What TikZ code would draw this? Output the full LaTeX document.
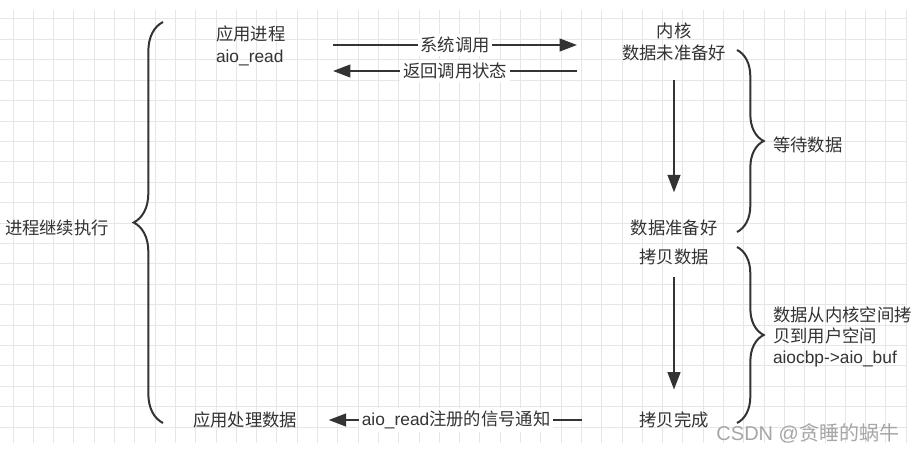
\documentclass[tikz,border=0pt]{standalone}
\usepackage{fontspec}
\newfontfamily\cjk{Noto Sans CJK SC}
\newfontfamily\lat{Liberation Sans}
\usetikzlibrary{positioning,arrows.meta,decorations.pathreplacing}
\definecolor{ink}{HTML}{333333}
\definecolor{gridc}{HTML}{E6E6E6}

\begin{document}
\begin{tikzpicture}[x=0.75pt,y=-0.75pt,>={Triangle[length=13pt,width=9.5pt]},line width=1.5pt,
  txt/.style={text=ink, font=\cjk\fontsize{13}{16}\selectfont, inner sep=0pt},
  lbl/.style={txt, fill=white, inner sep=2pt},
  brc/.style={draw=ink, decorate, decoration={brace,amplitude=#1}}]
  % Grid
  \useasboundingbox (0,0) rectangle (917,453);
  \fill[white] (0,0) rectangle (917,453);
  \foreach \i in {0,...,44}
    \draw[gridc, line width=0.75pt] (13+20.3*\i,10) -- (13+20.3*\i,443);
  \foreach \j in {0,...,20}
    \draw[gridc, line width=0.75pt] (0,19+20.4*\j) -- (907,19+20.4*\j);
  % Application side
  \node[txt, align=left, anchor=west] (app) at (215,46) {应用进程\\{\lat aio\_read}};
  \node[txt] (work) at (57,228) {进程继续执行};
  \node[txt] (proc) at (245,420) {应用处理数据};
  % Kernel side
  \node[txt, align=center] (kern) at (674,42) {内核\\数据未准备好};
  \node[txt] (ready) at (674,228) {数据准备好};
  \node[txt] (copy) at (674,257) {拷贝数据};
  \node[txt] (done) at (674,420) {拷贝完成};
  \node[txt, anchor=west] (wait) at (772,145) {等待数据};
  \node[txt, align=left, anchor=west] (move) at (772,337) {数据从内核空间拷\\贝到用户空间\\{\lat aiocbp->aio\_buf}};
  \node[text=black!35, font=\lat\fontsize{15}{18}\selectfont, inner sep=0pt, anchor=east] (mark) at (900,433) {CSDN @{\cjk 贪睡的蜗牛}};
  % Calls
  \coordinate (sysA) at (333,45);
  \coordinate (sysB) at (577,45);
  \coordinate (retA) at (577,71);
  \coordinate (retB) at (333,71);
  \draw[->, ink] (sysA) -- node[lbl] (sysL) {系统调用} (sysB);
  \draw[->, ink] (retA) -- node[lbl] (retL) {返回调用状态} (retB);
  \draw[->, ink, shorten <=14pt, shorten >=20pt] (kern.south) -- (ready.north);
  \draw[->, ink, shorten <=8.6pt, shorten >=16pt] (copy.south) -- (done.north);
  \draw[->, ink, shorten <=42pt, shorten >=23pt] (done.west) -- node[lbl, pos=0.535] (sigL) {{\lat aio\_read}注册的信号通知} (proc.east);
  % Braces
  \coordinate (lbT) at (163,22);
  \coordinate (lbB) at (163,423);
  \coordinate (waitT) at (737,50);
  \coordinate (waitB) at (737,232);
  \coordinate (moveT) at (737,247);
  \coordinate (moveB) at (737,423);
  \draw[brc=22pt] (lbB) -- (lbT);
  \draw[brc=20pt] (waitT) -- (waitB);
  \draw[brc=20pt] (moveT) -- (moveB);
\end{tikzpicture}
\end{document}
